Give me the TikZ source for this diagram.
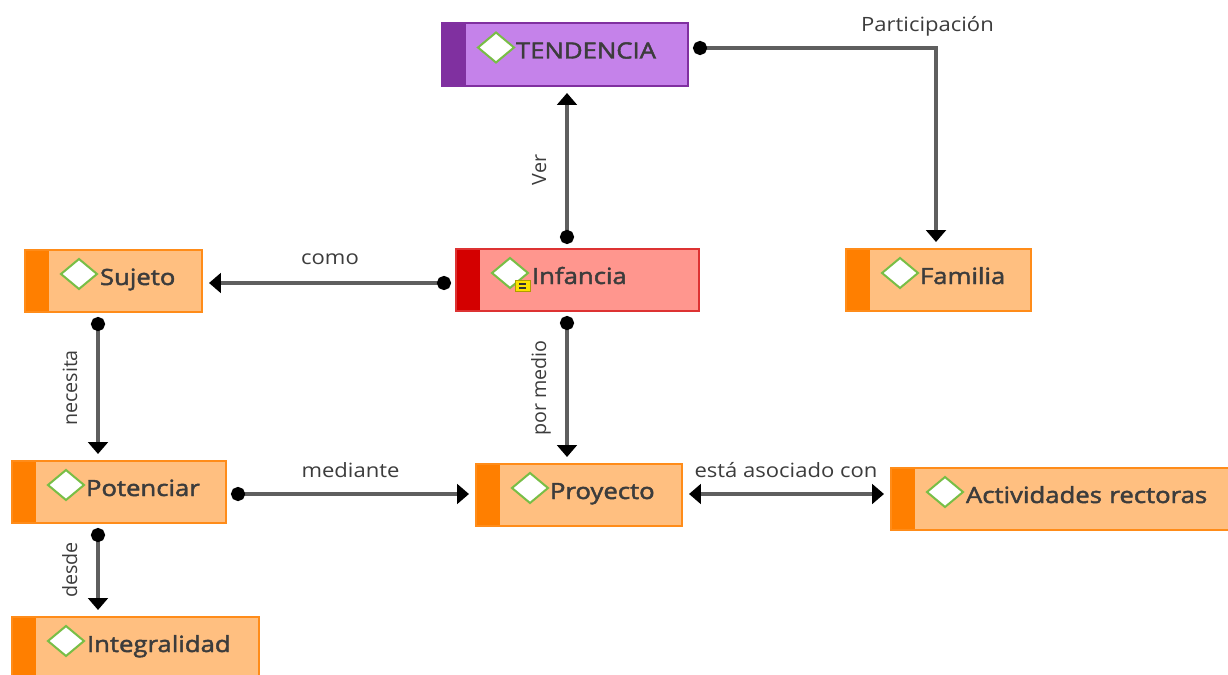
\documentclass[tikz,border=0pt]{standalone}
\usepackage{fontspec}
\setmainfont{Open Sans}
\newfontfamily\boxfont[FakeStretch=1.15,FakeBold=2]{Open Sans}
\newfontfamily\lblfont[FakeStretch=1.12]{Open Sans}
\usetikzlibrary{arrows.meta, calc, positioning}
\newlength\pxu \setlength\pxu{0.025cm}
\definecolor{TxtGray}{RGB}{60,60,60}
\definecolor{LineGray}{RGB}{95,95,95}
\definecolor{DiaGreen}{RGB}{120,190,70}
\definecolor{OrFill}{RGB}{255,191,128}
\definecolor{OrDark}{RGB}{255,127,0}
\definecolor{PuFill}{RGB}{197,130,234}
\definecolor{PuDark}{RGB}{128,48,160}
\definecolor{ReFill}{RGB}{255,150,142}
\definecolor{ReDark}{RGB}{212,0,0}
\definecolor{NoteYel}{RGB}{250,225,0}
\tikzset{
  concept/.style n args={4}{draw=#2, fill=#1, line width=2\pxu, minimum height=62\pxu,
    text width=#4\pxu, inner xsep=0pt, inner ysep=0pt, align=left,
    text height=16\pxu, text depth=8\pxu, text=TxtGray, font=\boxfont\fontsize{15.9}{18}\selectfont,
    path picture={
      \fill[#3] (path picture bounding box.north west) rectangle ([xshift=24\pxu]path picture bounding box.south west);
      \draw[DiaGreen, fill=white, line width=2\pxu] ([xshift=54\pxu,yshift=7\pxu]path picture bounding box.west)
        +(-18,0) -- +(0,-15) -- +(18,0) -- +(0,15) -- cycle;
    }},
  orbox/.style={concept={OrFill}{OrDark!90}{OrDark}{#1}},
  pubox/.style={concept={PuFill}{PuDark}{PuDark}{#1}},
  rebox/.style={concept={ReFill}{ReDark!80}{ReDark}{#1}},
  link/.style={draw=LineGray, line width=4\pxu, {Circle[black,length=10pt]}-{Triangle[black,length=8.5pt,width=14pt]},
    shorten <=4\pxu, shorten >=6\pxu},
  both/.style={draw=LineGray, line width=4\pxu, {Triangle[black,length=8.5pt,width=14pt]}-{Triangle[black,length=8.5pt,width=14pt]},
    shorten <=6\pxu, shorten >=6\pxu},
  lbl/.style={font=\lblfont\fontsize{14}{16}\selectfont, text=TxtGray, anchor=base, inner sep=0pt},
  vlbl/.style={font=\fontsize{14}{16}\selectfont, text=TxtGray, anchor=base, inner sep=0pt, rotate=90}
}
\begin{document}
\begin{tikzpicture}[x=0.025cm, y=-0.025cm]
  \clip (0,0) rectangle (1228,675);

  \node[pubox=246, minimum height=63\pxu] (tend) at (565,54.5) {\hspace*{74\pxu}TENDENCIA};
  \node[rebox=243] (inf) at (577.5,280) {\hspace*{76\pxu}Infancia};
  \node[orbox=177] (suj) at (113.5,281) {\hspace*{75\pxu}Sujeto};
  \node[orbox=185] (fam) at (938.5,280) {\hspace*{74\pxu}Familia};
  \node[orbox=214] (pot) at (119,492) {\hspace*{74\pxu}Potenciar};
  \node[orbox=206] (pro) at (579,495) {\hspace*{74\pxu}Proyecto};
  \node[orbox=346] (act) at (1064,499) {\hspace*{75\pxu}Actividades rectoras};
  \node[orbox=247] (int) at (135.5,648) {\hspace*{75\pxu}Integralidad};

  \filldraw[fill=NoteYel, draw=NoteYel!70!black, line width=1\pxu] (515,280) rectangle (530,291);
  \draw[black!80, line width=2\pxu] (519,284) -- (526,284) (519,287.5) -- (526,287.5);

  \draw[link] (567,0 |- inf.north) -- (567,0 |- tend.south);
  \draw[link] (tend.east |- 0,48) -| (936,0 |- fam.north);
  \draw[link] (inf.west |- 0,283) -- (suj.east |- 0,283);
  \draw[link] (567,0 |- inf.south) -- (567,0 |- pro.north);
  \draw[link] (98,0 |- suj.south) -- (98,0 |- pot.north);
  \draw[link] (pot.east |- 0,494) -- (pro.west |- 0,494);
  \draw[both] (pro.east |- 0,494) -- (act.west |- 0,494);
  \draw[link] (98,0 |- pot.south) -- (98,0 |- int.north);

  \node[vlbl] (lver) at (546,170) {Ver};
  \node[lbl] (lpart) at (927.5,32) {Participación};
  \node[lbl] (lcomo) at (330,265) {como};
  \node[vlbl] (lpor) at (546,388) {por medio};
  \node[vlbl] (lnec) at (77,388) {necesita};
  \node[lbl] (lmed) at (350.5,477) {mediante};
  \node[lbl] (lasoc) at (786,477) {está asociado con};
  \node[vlbl] (ldes) at (77,570) {desde};
\end{tikzpicture}
\end{document}
